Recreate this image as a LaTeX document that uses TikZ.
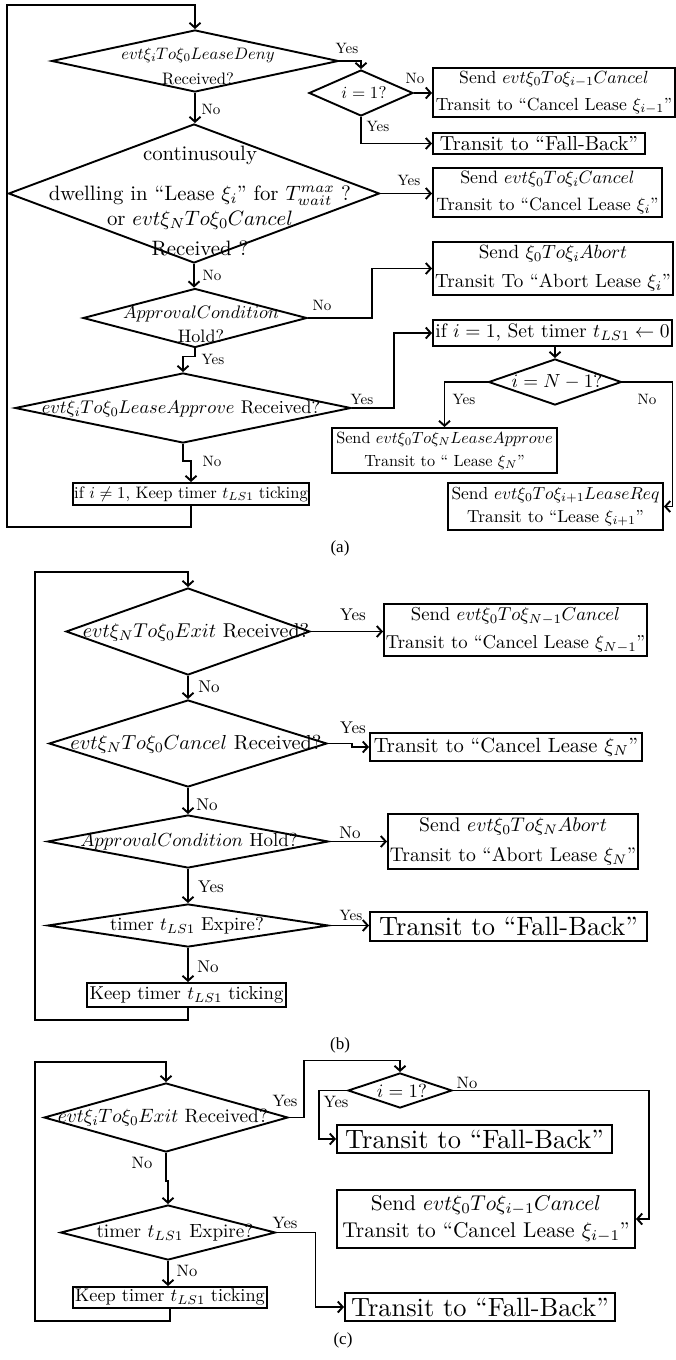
\RequirePackage{fix-cm}
\documentclass[tikz,border=0pt]{standalone}
\usepackage[no-math]{fontspec}
\setmainfont{lmroman10-regular.otf}[ItalicFont=lmroman10-italic.otf,BoldFont=lmroman10-bold.otf]
\newfontfamily\capfont{Liberation Serif}
\DeclareFontShape{OML}{cmm}{m}{it}{<-15.5>cmmi7 <15.5->cmmi10}{}
\DeclareFontShape{OMS}{cmsy}{m}{n}{<-15.5>cmsy7 <15.5->cmsy10}{}
\DeclareFontShape{OT1}{cmr}{m}{n}{<-15.5>cmr7 <15.5->cmr10}{}
\usetikzlibrary{shapes.geometric,arrows.meta}
\newcommand{\fsz}[2]{\fontsize{#1}{#2}\selectfont}
\newcommand{\capf}{\capfont\fontsize{17}{20}\selectfont}
\begin{document}
\begin{tikzpicture}[x=1pt,y=-1pt, line width=1.9pt,
  dia/.style 2 args={draw, diamond, inner sep=0pt, minimum width=#1, minimum height=#2},
  box/.style={draw, rectangle, inner sep=1pt, align=center},
  txt/.style={inner sep=0pt, align=center},
  laba/.style={inner sep=0pt, font=\fsz{15}{18}},
  labb/.style={inner sep=0pt, font=\fsz{17}{20}},
  labc/.style={inner sep=0pt, font=\fsz{16.5}{20}},
  capt/.style={inner sep=0pt},
  arr/.style={-{Straight Barb[length=5pt,width=11pt]}},
  ]
\useasboundingbox (0,0) rectangle (676,1360);

%% ---------------- panel (a)
\node[dia={287pt}{62pt}] (d1) at (195,61) {};
\node[txt, font=\fsz{16.6}{25}] (d1t) at (198,66) {$evt\xi_iTo\xi_0LeaseDeny$\\Received?};
\node[dia={371pt}{139pt}] (d2) at (194,193.5) {};
\node[txt, font=\fsz{20.8}{25}] (d2t) at (200,201) {continusouly\\[15pt]dwelling in ``Lease $\xi_i$'' for $T_{wait}^{max}$ ?\\or $evt\xi_NTo\xi_0Cancel$\\[5pt]Received ?};
\node[dia={104pt}{46pt}] (d3) at (361,93) {};
\node[txt, font=\fsz{17}{20}] (d3t) at (364,93) {$i=1$?};
\node[box, minimum width=242pt, minimum height=49pt, font=\fsz{17.6}{27}] (a1) at (554,92.5) {Send $evt\xi_0To\xi_{i-1}Cancel$\\Transit to ``Cancel Lease $\xi_{i-1}$''};
\node[box, minimum width=212pt, minimum height=21pt, font=\fsz{20.3}{24}] (a2) at (539,143.5) {Transit to ``Fall-Back''};
\node[box, minimum width=229pt, minimum height=49pt, font=\fsz{17.9}{27}] (a3) at (547.5,192.5) {Send $evt\xi_0To\xi_iCancel$\\Transit to ``Cancel Lease $\xi_i$''};
\node[box, minimum width=240pt, minimum height=53pt, font=\fsz{19.1}{29}] (a4) at (553,268.5) {Send $\xi_0To\xi_iAbort$\\Transit To ``Abort Lease $\xi_i$''};
\node[dia={224pt}{59pt}] (d4) at (195,318) {};
\node[txt, font=\fsz{18.1}{24}] (d4t) at (201,324) {$ApprovalCondition$\\Hold?};
\node[dia={336pt}{70pt}] (d5) at (183,408) {};
\node[txt, font=\fsz{18.4}{24}] (d5t) at (181,409) {$evt\xi_iTo\xi_0LeaseApprove$ Received?};
\node[box, minimum width=236pt, minimum height=22pt, font=\fsz{16.6}{22}] (a5) at (191,494) {if $i\neq1$, Keep timer $t_{LS1}$ ticking};
\node[box, minimum width=239pt, minimum height=26pt, font=\fsz{19.5}{24}] (a6) at (552.5,333) {if $i=1$, Set timer $t_{LS1}\leftarrow0$};
\node[dia={133pt}{46pt}] (d6) at (555,382) {};
\node[txt, font=\fsz{19}{22}] (d6t) at (557,382) {$i=N-1$?};
\node[box, minimum width=225pt, minimum height=45pt, font=\fsz{16.2}{23}] (a7) at (444.5,450.5) {Send $evt\xi_0To\xi_NLeaseApprove$\\Transit to `` Lease $\xi_N$''};
\node[box, minimum width=215pt, minimum height=47pt, font=\fsz{17.4}{23}] (a8) at (555.5,506.5) {Send $evt\xi_0To\xi_{i+1}LeaseReq$\\Transit to ``Lease $\xi_{i+1}$''};
\node[capt] (capa) at (340,548) {\capf (a)};

\coordinate (la1) at (7,527);
\coordinate (la2) at (7,5);
\draw[arr] (a5.south) |- (la1) -- (la2) -| (d1.north);
\draw[arr] (d1.south) -- (d1.south |- d2.north);
\draw[arr] (d1.east) -| (d3.north);
\draw[arr] (d3.east) -- (d3.east -| a1.west);
\draw[arr] (d3.south) |- (a2.west);
\draw[arr] (d2.east) -- (d2.east -| a3.west);
\draw[arr] (d2.south) -- (d2.south |- d4.north);
\draw[arr] (d4.east) -- ++(64,0) |- (a4.west);
\draw[arr] (d4.south) -- ++(0,8) -| (d5.north);
\draw[arr] (d5.south) -- ++(0,17) -| (a5.north);
\draw[arr] (d5.east) -- ++(42,0) |- (a6.west);
\draw[arr] (a6.south -| d6.north) -- (d6.north);
\draw[arr] (d6.west) -| (a7.north);
\draw[arr] (d6.east) -- ++(50,0) |- (a8.east);

\node[laba] (ya1) at (347,48) {Yes};
\node[laba] (na1) at (415,78) {No};
\node[laba] (ya2) at (378,126) {Yes};
\node[laba] (ya3) at (409,180) {Yes};
\node[laba] (na2) at (211,109) {No};
\node[laba] (na3) at (212,275) {No};
\node[laba] (na4) at (322,305) {No};
\node[laba] (ya4) at (213,359) {Yes};
\node[laba] (na5) at (212,461) {No};
\node[laba] (ya5) at (362,399) {Yes};
\node[laba] (ya6) at (464,399) {Yes};
\node[laba] (na6) at (647,399) {No};

%% ---------------- panel (b)
\node[dia={244pt}{87pt}] (b1) at (188,631.5) {};
\node[txt, font=\fsz{20}{24}] (b1t) at (196,632) {$evt\xi_NTo\xi_0Exit$ Received?};
\node[dia={278pt}{87pt}] (b2) at (188,743.5) {};
\node[txt, font=\fsz{20.3}{24}] (b2t) at (196,744) {$evt\xi_NTo\xi_0Cancel$ Received?};
\node[dia={281pt}{53pt}] (b3) at (188,841.5) {};
\node[txt, font=\fsz{18.9}{24}] (b3t) at (189,842) {$ApprovalCondition$ Hold?};
\node[dia={281pt}{43pt}] (b4) at (188,925.5) {};
\node[txt, font=\fsz{18.7}{24}] (b4t) at (187,926) {timer $t_{LS1}$ Expire?};
\node[box, minimum width=199pt, minimum height=24pt, font=\fsz{18.7}{24}] (b5) at (186.5,995) {Keep timer $t_{LS1}$ ticking};
\node[box, minimum width=263pt, minimum height=52pt, font=\fsz{18.7}{28}] (b6) at (515.5,630) {Send $evt\xi_0To\xi_{N-1}Cancel$\\Transit to ``Cancel Lease $\xi_{N-1}$''};
\node[box, minimum width=272pt, minimum height=28pt, font=\fsz{20.6}{24}] (b7) at (506,747) {Transit to ``Cancel Lease $\xi_N$''};
\node[box, minimum width=250pt, minimum height=55pt, font=\fsz{19.7}{30}] (b8) at (513,841.5) {Send $evt\xi_0To\xi_NAbort$\\Transit to ``Abort Lease $\xi_N$''};
\node[box, minimum width=277pt, minimum height=29pt, font=\fsz{26.5}{30}] (b9) at (508.5,926.5) {Transit to ``Fall-Back''};
\node[capt] (capb) at (340,1045) {\capf (b)};

\coordinate (lb1) at (35,1020);
\coordinate (lb2) at (35,572);
\draw[arr] (b5.south -| b1.north) |- (lb1) -- (lb2) -| (b1.north);
\draw[arr] (b1.south) -- (b2.north);
\draw[arr] (b2.south) -- (b3.north);
\draw[arr] (b3.south) -- (b4.north);
\draw[arr] (b4.south) -- (b4.south |- b5.north);
\draw[arr] (b1.east) -- (b1.east -| b6.west);
\draw[arr] (b2.east) -- ++(24,0) |- (b7.west);
\draw[arr] (b3.east) -- (b3.east -| b8.west);
\draw[arr] (b4.east) -- (b4.east -| b9.west);

\node[labb] (yb1) at (353,615) {Yes};
\node[labb] (nb1) at (209,687) {No};
\node[labb] (yb2) at (353,728) {Yes};
\node[labb] (nb2) at (207,805) {No};
\node[labb] (nb3) at (350,833) {No};
\node[labb] (yb3) at (211,887) {Yes};
\node[laba] (yb4) at (351,915) {Yes};
\node[labb] (nb4) at (208,967) {No};

%% ---------------- panel (c)
\node[dia={244pt}{69pt}] (c1) at (166,1117.5) {};
\node[txt, font=\fsz{19.3}{24}] (c1t) at (163,1118) {$evt\xi_iTo\xi_0Exit$ Received?};
\node[dia={215pt}{55pt}] (c2) at (168,1232.5) {};
\node[txt, font=\fsz{19.1}{24}] (c2t) at (175,1233) {timer $t_{LS1}$ Expire?};
\node[box, minimum width=194pt, minimum height=21pt, font=\fsz{18.3}{22}] (c3) at (170,1297.5) {Keep timer $t_{LS1}$ ticking};
\node[dia={104pt}{35pt}] (c4) at (400,1090.5) {};
\node[txt, font=\fsz{18.9}{22}] (c4t) at (402,1091) {$i=1$?};
\node[box, minimum width=275pt, minimum height=28pt, font=\fsz{26.5}{30}] (c5) at (474.5,1139) {Transit to ``Fall-Back''};
\node[box, minimum width=298pt, minimum height=58pt, font=\fsz{21.4}{27}] (c6) at (486,1219) {Send $evt\xi_0To\xi_{i-1}Cancel$\\Transit to ``Cancel Lease $\xi_{i-1}$''};
\node[box, minimum width=270pt, minimum height=28pt, font=\fsz{26.4}{30}] (c7) at (480,1307) {Transit to ``Fall-Back''};
\node[capt] (capc) at (343,1340) {\capf (c)};

\coordinate (lc1) at (35,1321);
\coordinate (lc2) at (35,1062);
\draw[arr] (c3.south) |- (lc1) -- (lc2) -| (c1.north);
\draw[arr] (c1.south) -- ++(0,28) -| (c2.north);
\draw[arr] (c2.south) -- (c2.south |- c3.north);
\draw[arr] (c1.east) -- ++(15,0) -- ++(0,-57) -| (c4.north);
\draw[arr] (c4.west) -- ++(-28,0) |- (c5.west);
\draw[arr] (c4.east) -- ++(196,0) |- (c6.east);
\draw[arr] (c2.east) -- ++(39,0) |- (c7.west);

\node[labc] (yc1) at (285,1101) {Yes};
\node[labc] (nc1) at (142,1163) {No};
\node[labc] (yc2) at (285,1223) {Yes};
\node[labc] (nc2) at (187,1271) {No};
\node[labc] (yc3) at (336,1102) {Yes};
\node[labc] (nc3) at (467,1083) {No};
\end{tikzpicture}
\end{document}
